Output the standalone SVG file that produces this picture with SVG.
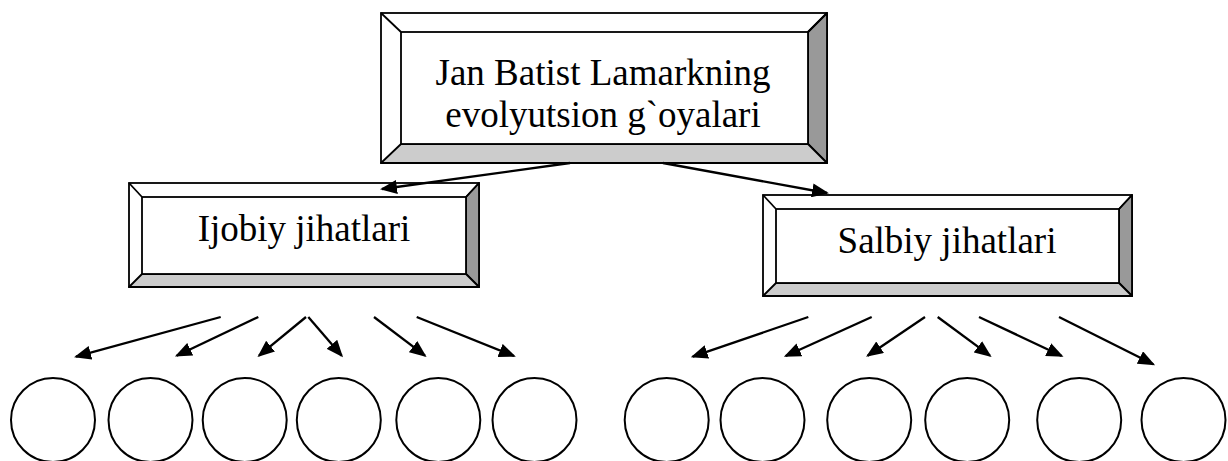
<svg xmlns="http://www.w3.org/2000/svg" width="1228" height="461" viewBox="0 0 1228 461">
<style>
.o{fill:#fff;stroke:#000;stroke-width:1.8}
.r{fill:#999;stroke:#000;stroke-width:1.8;stroke-linejoin:round}
.b{fill:#ccc;stroke:#000;stroke-width:1.8;stroke-linejoin:round}
.d{stroke:#000;stroke-width:1.8}
.t{font-family:"Liberation Serif","Times New Roman",serif;font-size:37px;fill:#000;text-anchor:middle}
.c{fill:none;stroke:#000;stroke-width:2}
.a{stroke:#000;stroke-width:2.3;fill:none;marker-end:url(#ah)}
</style>
<defs>
<marker id="ah" viewBox="0 0 17 14" refX="15" refY="7" markerWidth="17" markerHeight="14" orient="auto" markerUnits="userSpaceOnUse">
<path d="M0,0 L17,7 L0,14 z" fill="#000"/>
</marker>
</defs>
<g id="top">
<rect class="o" x="381" y="13" width="446" height="150"/>
<polygon class="r" points="827,13 827,163 808,144 808,32"/>
<polygon class="b" points="381,163 827,163 808,144 401,144"/>
<line class="d" x1="381" y1="13" x2="401" y2="32"/>
<line class="d" x1="827" y1="13" x2="808" y2="32"/>
<rect class="o" x="401" y="32" width="407" height="112"/>
<text class="t" x="603" y="85">Jan Batist Lamarkning</text>
<text class="t" x="603" y="127">evolyutsion g`oyalari</text>
</g>
<g id="ijobiy">
<rect class="o" x="129" y="183" width="350" height="104"/>
<polygon class="r" points="479,183 479,287 466,274 466,197"/>
<polygon class="b" points="129,287 479,287 466,274 142,274"/>
<line class="d" x1="129" y1="183" x2="142" y2="197"/>
<line class="d" x1="479" y1="183" x2="466" y2="197"/>
<rect class="o" x="142" y="197" width="324" height="77"/>
<text class="t" x="304" y="241">Ijobiy jihatlari</text>
</g>
<g id="salbiy">
<rect class="o" x="763" y="195" width="369" height="101"/>
<polygon class="r" points="1132,195 1132,296 1119,283 1119,209"/>
<polygon class="b" points="763,296 1132,296 1119,283 776,283"/>
<line class="d" x1="763" y1="195" x2="776" y2="209"/>
<line class="d" x1="1132" y1="195" x2="1119" y2="209"/>
<rect class="o" x="776" y="209" width="343" height="74"/>
<text class="t" x="947" y="253">Salbiy jihatlari</text>
</g>
<g id="circles">
<ellipse id="c1" class="c" cx="53" cy="420" rx="42" ry="42"/>
<ellipse id="c2" class="c" cx="150.5" cy="420" rx="42" ry="42"/>
<ellipse id="c3" class="c" cx="244.7" cy="420" rx="42" ry="42"/>
<ellipse id="c4" class="c" cx="338.8" cy="420" rx="42" ry="42"/>
<ellipse id="c5" class="c" cx="438.3" cy="420" rx="42" ry="42"/>
<ellipse id="c6" class="c" cx="534.5" cy="420" rx="42" ry="42"/>
<ellipse id="c7" class="c" cx="666.7" cy="420" rx="42" ry="42"/>
<ellipse id="c8" class="c" cx="762.5" cy="420" rx="42" ry="42"/>
<ellipse id="c9" class="c" cx="869.2" cy="420" rx="42" ry="42"/>
<ellipse id="c10" class="c" cx="967.2" cy="420" rx="42" ry="42"/>
<ellipse id="c11" class="c" cx="1079.2" cy="420" rx="42" ry="42"/>
<ellipse id="c12" class="c" cx="1183.5" cy="420" rx="42" ry="42"/>
</g>
<g id="connectors">
<line class="a" x1="570" y1="163" x2="382" y2="189"/>
<line class="a" x1="663" y1="163" x2="827" y2="193"/>
<line class="a" x1="220.7" y1="317" x2="76" y2="356.7"/>
<line class="a" x1="258.3" y1="317" x2="176.7" y2="355.7"/>
<line class="a" x1="306" y1="317" x2="259" y2="355.7"/>
<line class="a" x1="308.3" y1="317" x2="341.7" y2="355.7"/>
<line class="a" x1="374" y1="317" x2="425" y2="355.7"/>
<line class="a" x1="416.7" y1="317" x2="514" y2="356"/>
<line class="a" x1="808.3" y1="317" x2="692.7" y2="356.7"/>
<line class="a" x1="871.7" y1="317" x2="785.7" y2="356"/>
<line class="a" x1="925" y1="317" x2="867.7" y2="355.7"/>
<line class="a" x1="937.7" y1="317" x2="990" y2="355.7"/>
<line class="a" x1="979" y1="317" x2="1061.7" y2="356"/>
<line class="a" x1="1059" y1="317" x2="1153.3" y2="364.3"/>
</g>
</svg>
